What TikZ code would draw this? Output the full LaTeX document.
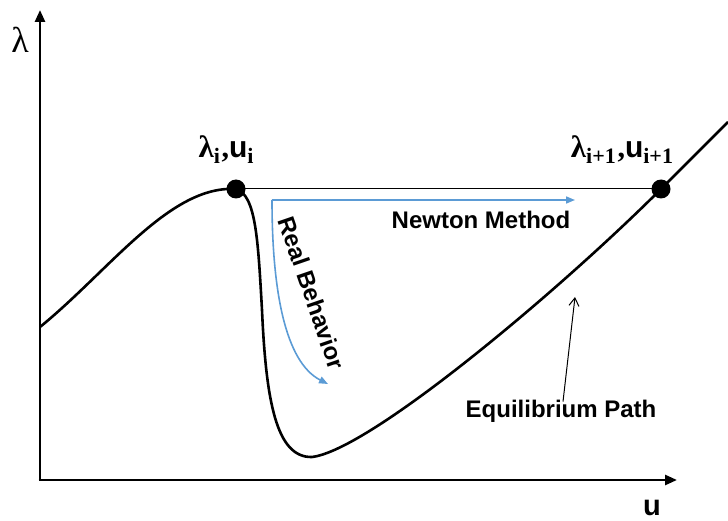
\documentclass[tikz,border=0pt]{standalone}
\usepackage{fontspec}
\setmainfont{Liberation Sans}
\newfontfamily\serifrm{Liberation Serif}
\newfontfamily\sansrm{Liberation Sans}
\usetikzlibrary{arrows.meta}
\definecolor{arrowblue}{RGB}{91,155,213}
\newcommand{\subt}[1]{{\serifrm\bfseries\fontsize{22}{24}\selectfont\raisebox{-6pt}{#1}}}
\newcommand{\lamb}{{\serifrm\bfseries\fontsize{31}{34}\selectfont λ}}
\newcommand{\ub}{{\sansrm\bfseries\fontsize{30}{34}\selectfont u}}
\begin{document}
\begin{tikzpicture}[x=1pt,y=-1pt,
  axis/.style={line width=2.6pt,-{Triangle[length=12pt,width=10pt]}},
  path/.style={line width=2.6pt},
  dot/.style={circle,fill=black,inner sep=0pt,minimum size=19pt},
  lbl/.style={font=\bfseries\fontsize{24}{28}\selectfont,inner sep=0pt},
  blue/.style={draw=arrowblue,line width=1.6pt,-{Triangle[length=9pt,width=7pt]}},
  thin/.style={line width=1pt}]
\useasboundingbox (0,0) rectangle (728,521);
% axes
\coordinate (O) at (40,480);
\coordinate (Ytop) at (40,10);
\coordinate (Xend) at (677,480);
\draw[axis] (O) -- (Ytop);
\draw[axis] ([xshift=-1.3pt]O) -- (Xend);
\node[font=\serifrm\fontsize{36}{40}\selectfont,inner sep=0pt] (lam) at (20,40) {λ};
\node[font=\bfseries\fontsize{29}{30}\selectfont,inner sep=0pt] (ulab) at (652,508) {u};
% points
\node[dot] (Pi) at (236,189) {};
\node[dot] (Pj) at (661,189) {};
% equilibrium path
\draw[path] (40,327) .. controls (110,270) and (170,185) .. (Pi.center)
  .. controls (256,195) and (258,240) .. (262,310)
  .. controls (266,400) and (276,458) .. (312,457)
  .. controls (370,450) and (560,290) .. (Pj.center) -- (728,122);
% newton line
\draw[thin] (Pi.center) -- (Pj.center);
% labels
\node[inner sep=0pt,anchor=base] (Li) at (226,158) {\lamb\subt{i}\,{\serifrm\bfseries\fontsize{30}{34}\selectfont,}\ub\subt{i}};
\node[inner sep=0pt,anchor=base] (Lj) at (622,158) {\lamb\subt{i+1}\,{\serifrm\bfseries\fontsize{30}{34}\selectfont,}\ub\subt{i+1}};
% blue arrows
\coordinate (corner) at (272,200);
\coordinate (nEnd) at (575,200);
\coordinate (rEnd) at (328,384);
\draw[blue] (corner) -- (nEnd);
\draw[blue] (corner) .. controls (272,290) and (285,362) .. (rEnd);
\node[lbl] (newton) at (481,220) {Newton Method};
\node[lbl,rotate=-71] (real) at (312,293) {Real Behavior};
% equilibrium label
\node[lbl] (eq) at (561,411) {Equilibrium Path};
\coordinate (eqTip) at (575,297);
\draw[thin,-{Straight Barb[length=8pt,width=10pt]}] ([xshift=2pt,yshift=-2pt]eq.north) -- (eqTip);
\end{tikzpicture}
\end{document}
